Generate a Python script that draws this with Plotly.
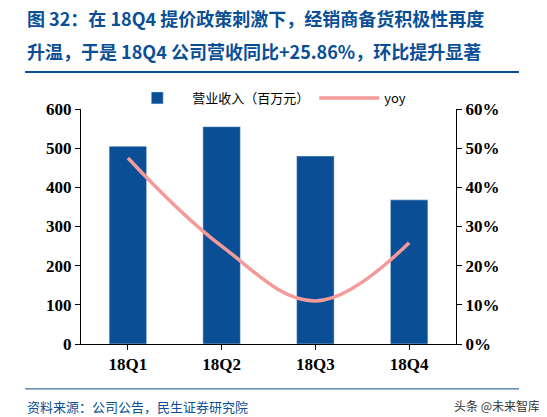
import plotly.graph_objects as go

quarters = ['18Q1', '18Q2', '18Q3', '18Q4']
revenue = [505, 555, 480, 368]
yoy = [0.475, 0.25, 0.11, 0.2586]

blue = '#0a4f96'
fig = go.Figure()
fig.add_trace(go.Bar(x=quarters, y=revenue, name='营业收入（百万元）', marker_color=blue, width=0.4))
fig.add_trace(go.Scatter(x=quarters, y=yoy, name='yoy', yaxis='y2', mode='lines',
                         line=dict(color='#f59a9a', width=3.5, shape='spline', smoothing=1.1)))

tickfont = dict(family='Liberation Serif', size=17, color='black')
fig.update_layout(
    width=547, height=410, plot_bgcolor='white', paper_bgcolor='white',
    margin=dict(l=73, r=99, t=101, b=74, autoexpand=False),
    showlegend=True,
    legend=dict(orientation='h', x=0.11, y=1.047, xanchor='left', yanchor='middle',
                font=dict(family='Noto Sans CJK SC', size=13, color='black'), itemwidth=60),
    xaxis=dict(showline=True, linecolor='black', linewidth=1, ticks='outside', tickcolor='black',
               tickfont=tickfont, tickprefix='<b>', ticksuffix='</b>'),
    yaxis=dict(range=[0, 600], dtick=100, showline=True, linecolor='black', ticks='outside',
               tickcolor='black', ticklen=5, showgrid=False, tickfont=tickfont,
               tickprefix='<b>', ticksuffix='</b>'),
    yaxis2=dict(range=[0, 0.6], dtick=0.1, tickformat='.0%', overlaying='y', side='right',
                showline=True, linecolor='black', ticks='outside', tickcolor='black', ticklen=5,
                showgrid=False, tickfont=tickfont, tickprefix='<b>', ticksuffix='</b>'),
)
title_font = dict(family='Noto Sans CJK SC', size=18, color=blue)
fig.add_annotation(xref='paper', yref='paper', x=-0.149, y=1.387, xanchor='left', yanchor='middle',
                   showarrow=False, text='<b>图 32：在 18Q4 提价政策刺激下，经销商备货积极性再度</b>', font=title_font)
fig.add_annotation(xref='paper', yref='paper', x=-0.149, y=1.247, xanchor='left', yanchor='middle',
                   showarrow=False, text='<b>升温，于是 18Q4 公司营收同比+25.86%，环比提升显著</b>', font=title_font)
fig.add_shape(type='line', xref='paper', yref='paper', x0=-0.149, x1=1.168, y0=1.157, y1=1.157,
              line=dict(color=blue, width=2))
fig.add_shape(type='line', xref='paper', yref='paper', x0=-0.149, x1=1.168, y0=-0.191, y1=-0.191,
              line=dict(color=blue, width=1))
fig.add_annotation(xref='paper', yref='paper', x=-0.149, y=-0.215, xanchor='left', yanchor='top',
                   showarrow=False, text='资料来源：公司公告，民生证券研究院',
                   font=dict(family='Noto Sans CJK SC', size=13, color=blue))
fig.add_annotation(xref='paper', yref='paper', x=1.23, y=-0.215, xanchor='right', yanchor='top',
                   showarrow=False, text='头条 @未来智库',
                   font=dict(family='Noto Sans CJK SC', size=12, color='#333'))
fig.write_html('out.html')
